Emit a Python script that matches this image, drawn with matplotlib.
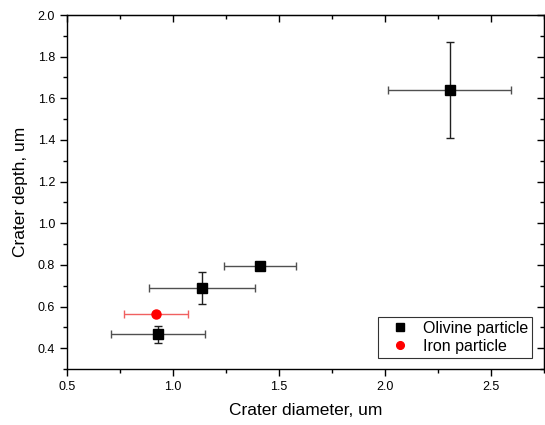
import matplotlib
matplotlib.use("Agg")
import matplotlib.pyplot as plt
from matplotlib.ticker import MultipleLocator

plt.rcParams['font.family'] = ['Liberation Sans', 'DejaVu Sans']

# olivine particles
oli_d = [0.93, 1.135, 1.41, 2.305]
oli_h = [0.467, 0.689, 0.796, 1.639]
oli_dx = [0.22, 0.25, 0.17, 0.29]
oli_dy = [0.04, 0.078, 0.0, 0.23]

# iron particle
fe_d = [0.921]
fe_h = [0.565]
fe_dx = [0.152]
fe_dy = [0.0]

fig = plt.figure(figsize=(5.45, 4.25), dpi=100)
ax = fig.add_axes([0.1229, 0.1318, 0.8752, 0.8329])

# error bars first, markers on top
ax.errorbar(oli_d, oli_h, xerr=oli_dx, fmt='none', ecolor='#505050',
            elinewidth=1.0, capsize=3, capthick=1.0, zorder=2)
ax.errorbar(oli_d, oli_h, yerr=oli_dy, fmt='none', ecolor='#202020',
            elinewidth=1.0, capsize=3, capthick=1.0, zorder=2)
ax.errorbar(fe_d, fe_h, xerr=fe_dx, fmt='none', ecolor='#f06060',
            elinewidth=1.0, capsize=3, capthick=1.0, zorder=2)
ax.plot(oli_d, oli_h, 's', color='black', ms=6.5, label='Olivine particle', zorder=3)
ax.plot(fe_d, fe_h, 'o', color='red', ms=6.5, label='Iron particle', zorder=3)

ax.set_xlim(0.5, 2.75)
ax.set_ylim(0.3, 2.0)
ax.xaxis.set_major_locator(MultipleLocator(0.5))
ax.xaxis.set_minor_locator(MultipleLocator(0.25))
ax.yaxis.set_major_locator(MultipleLocator(0.2))
ax.yaxis.set_minor_locator(MultipleLocator(0.1))
ax.set_yticks([0.4, 0.6, 0.8, 1.0, 1.2, 1.4, 1.6, 1.8, 2.0])

ax.tick_params(which='both', direction='out', labelsize=9, width=1)
ax.tick_params(which='major', length=5)
ax.tick_params(which='minor', length=3)

# inward ticks on top and right
sec = ax.secondary_xaxis('top')
sec.xaxis.set_major_locator(MultipleLocator(0.5))
sec.xaxis.set_minor_locator(MultipleLocator(0.25))
sec.tick_params(which='both', direction='in', labeltop=False, width=1)
sec.tick_params(which='major', length=5)
sec.tick_params(which='minor', length=3)
sec2 = ax.secondary_yaxis('right')
sec2.yaxis.set_major_locator(MultipleLocator(0.2))
sec2.yaxis.set_minor_locator(MultipleLocator(0.1))
sec2.tick_params(which='both', direction='in', labelright=False, width=1)
sec2.tick_params(which='major', length=5)
sec2.tick_params(which='minor', length=3)

for s in ax.spines.values():
    s.set_linewidth(1.0)

ax.set_xlabel('Crater diameter, um', fontsize=12.5, labelpad=7)
ax.set_ylabel('Crater depth, um', fontsize=12.5, labelpad=7)

leg = ax.legend(loc='lower right', bbox_to_anchor=(0.975, 0.031), fontsize=11.5,
                frameon=True, fancybox=False, edgecolor='black', borderaxespad=0,
                handlelength=2.2, handletextpad=0.35, borderpad=0.25, labelspacing=0.2,
                markerscale=0.85)
leg.get_frame().set_linewidth(0.8)

fig.savefig('out.png', dpi=100)
